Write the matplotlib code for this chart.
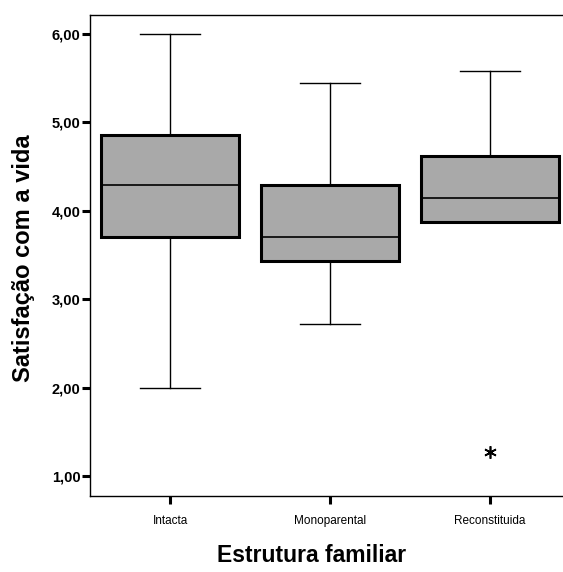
import matplotlib.pyplot as plt
import numpy as np

plt.rcParams['font.family'] = ['Liberation Sans', 'DejaVu Sans']

categories = ['Intacta', 'Monoparental', 'Reconstituida']
whisker_low = [2.00, 2.72, 3.87]
q1 = [3.70, 3.43, 3.87]
medians = [4.29, 3.70, 4.14]
q3 = [4.86, 4.29, 4.62]
whisker_high = [6.00, 5.45, 5.58]
outliers = [[], [], [1.27]]
y_ticks = [1, 2, 3, 4, 5, 6]

stats = []
for i, name in enumerate(categories):
    stats.append({'label': name, 'whislo': whisker_low[i], 'q1': q1[i], 'med': medians[i],
                  'q3': q3[i], 'whishi': whisker_high[i], 'fliers': outliers[i]})

fig = plt.figure(figsize=(5.63, 5.72), dpi=100)
ax = fig.add_axes([0.160, 0.133, 0.852, 0.841])

ax.bxp(stats, positions=[1, 2, 3], widths=0.865, capwidths=0.376, patch_artist=True,
       boxprops=dict(facecolor='#a9a9a9', edgecolor='black', linewidth=2.2),
       medianprops=dict(color='black', linewidth=1.2),
       whiskerprops=dict(color='black', linewidth=1.0),
       capprops=dict(color='black', linewidth=1.0),
       flierprops=dict(marker=(6, 2, 0), markersize=9, markeredgecolor='black', markeredgewidth=1.2,
                       linestyle='none'))

ax.set_xlim(0.5, 3.5)
ax.set_ylim(0.774, 6.215)
ax.set_yticks(y_ticks)
ax.set_yticklabels([f'{v:.2f}'.replace('.', ',') for v in y_ticks], fontsize=10.5, fontweight='bold')
ax.set_xticks([1, 2, 3])
ax.set_xticklabels(categories, fontsize=8.5)
ax.tick_params(axis='both', direction='out', length=6, width=2.2, color='black')
ax.tick_params(axis='y', pad=1)
ax.tick_params(axis='x', pad=8)
for s in ax.spines.values():
    s.set_linewidth(1.0)
    s.set_color('black')

ax.set_ylabel('Satisfação com a vida', fontsize=17, fontweight='bold')
ax.yaxis.set_label_coords(-0.115, 0.495)
ax.set_xlabel('Estrutura familiar', fontsize=16.5, fontweight='bold')
ax.xaxis.set_label_coords(0.4625, -0.100)

fig.savefig('out.png', dpi=100)
